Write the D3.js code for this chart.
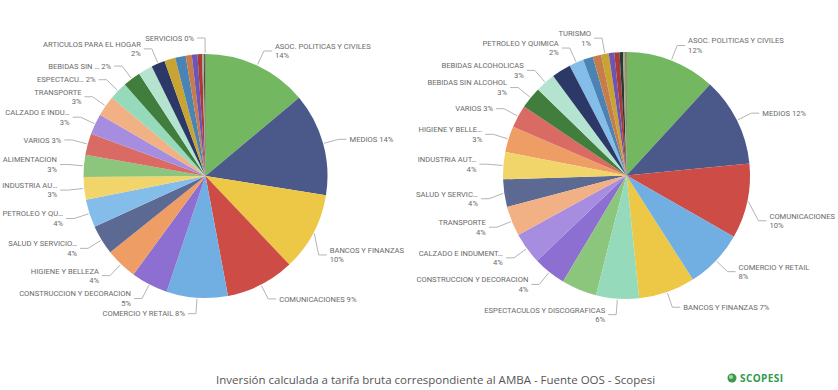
<!DOCTYPE html>
<html><head><meta charset="utf-8">
<script src="https://cdn.jsdelivr.net/npm/d3@7/dist/d3.min.js"></script>
<style>body{margin:0;background:#fff;}svg{display:block}</style>
</head><body><svg id="chart" width="838" height="390"></svg>
<script>
// ---- data ----
const categories = [
  "ASOC. POLITICAS Y CIVILES","MEDIOS","BANCOS Y FINANZAS","COMUNICACIONES","COMERCIO Y RETAIL",
  "CONSTRUCCION Y DECORACION","HIGIENE Y BELLEZA","SALUD Y SERVICIOS MEDICOS","PETROLEO Y QUIMICA",
  "INDUSTRIA AUTOMOTRIZ","ALIMENTACION","VARIOS","CALZADO E INDUMENTARIA","TRANSPORTE",
  "ESPECTACULOS Y DISCOGRAFICAS","BEBIDAS SIN ALCOHOL","BEBIDAS ALCOHOLICAS","ARTICULOS PARA EL HOGAR",
  "TURISMO","INFORMATICA","EDUCACION","GOBIERNO","JUGUETERIA","DEPORTES","OTROS","SERVICIOS"
];
const leftValues  = [13.9,13.6,10.4,9.1,8.1,4.9,4.2,3.9,3.7,3.0,2.9,2.85,2.75,2.7,2.4,2.35,1.9,1.8,1.45,1.4,0.8,0.75,0.6,0.15,0.2,0.1];
const rightValues = [11.8,11.6,7.4,9.8,7.7,4.3,3.4,3.6,1.9,3.55,4.6,2.95,4.1,3.9,5.6,2.85,2.6,2.5,1.0,1.3,1.1,0.72,0.68,0.45,0.3,0.15];
// displayed label names ("\n" = percentage on second line, null = no label)
const leftLabels = [
  "ASOC. POLITICAS Y CIVILES\n","MEDIOS ","BANCOS Y FINANZAS\n","COMUNICACIONES ","COMERCIO Y RETAIL ",
  "CONSTRUCCION Y DECORACION\n","HIGIENE Y BELLEZA\n","SALUD Y SERVICIO…\n","PETROLEO Y QU…\n",
  "INDUSTRIA AU…\n","ALIMENTACION\n","VARIOS ","CALZADO E INDU…\n","TRANSPORTE\n",
  "ESPECTACU… ","BEBIDAS SIN … ",null,"ARTICULOS PARA EL HOGAR\n",
  null,null,null,null,null,null,null,"SERVICIOS "
];
const rightLabels = [
  "ASOC. POLITICAS Y CIVILES\n","MEDIOS ","BANCOS Y FINANZAS ","COMUNICACIONES\n","COMERCIO Y RETAIL\n",
  "CONSTRUCCION Y DECORACION\n","HIGIENE Y BELLE…\n","SALUD Y SERVIC…\n","PETROLEO Y QUIMICA\n",
  "INDUSTRIA AUT…\n",null,"VARIOS ","CALZADO E INDUMENT…\n","TRANSPORTE\n",
  "ESPECTACULOS Y DISCOGRAFICAS\n","BEBIDAS SIN ALCOHOL\n","BEBIDAS ALCOHOLICAS\n",null,
  "TURISMO\n",null,null,null,null,null,null,null
];
const palette = [
  "#73B761","#4A588A","#ECC846","#CD4C46","#71AFE2","#8D6FD1","#EE9E64","#5C6993","#85BDEA",
  "#F2D56A","#8CC57C","#DA6B64","#A68DE0","#F2B184","#95DABB","#417E3D","#B4E4D0","#2C3866",
  "#C8A533","#4B83B5","#C57D4B","#6D54B5","#A83A37","#263A33","#A0A88E","#6B4A2A"
];
const footerText = "Inversión calculada a tarifa bruta correspondiente al AMBA - Fuente OOS - Scopesi";

// ---- drawing ----
const svg = d3.select("#chart");
const color = d3.scaleOrdinal().domain(categories).range(palette);

function drawPie(values, labels, cx, cy, r, xmin, xmax){
  const data = categories.map((c,i)=>({cat:c, value:values[i], label:labels[i]}));
  const total = d3.sum(data, d=>d.value);
  const pie = d3.pie().value(d=>d.value);
  const arcs = pie(data);
  const arc = d3.arc().innerRadius(0).outerRadius(r);
  const g = svg.append("g");
  g.append("g").attr("transform",`translate(${cx},${cy})`)
    .selectAll("path").data(arcs).join("path")
    .attr("d", arc).attr("fill", d=>color(d.data.cat));

  const lg = g.append("g");
  const re = r + 16;
  const lh = 9.5;
  arcs.filter(d=>d.data.label!==null).forEach(d=>{
    const a = (d.startAngle+d.endAngle)/2;
    const s = Math.sin(a), c = Math.cos(a);
    const side = s >= 0 ? 1 : -1;
    const p0 = [cx + (r+1)*s, cy - (r+1)*c];
    let e = [cx + re*s, cy - re*c];
    const pct = Math.round(d.data.value/total*100) + "%";
    const lab = d.data.label;
    const lines = lab.endsWith("\n") ? [lab.slice(0,-1), pct] : [lab + pct];
    const t = lg.append("text").attr("text-anchor", side>0?"start":"end")
      .attr("font-family","Roboto, 'DejaVu Sans', sans-serif").attr("font-size","7.6px")
      .attr("fill","#6a6a6a");
    const spans = lines.map(ln=>t.append("tspan").attr("dy","0.35em").text(ln));
    const w = d3.max(spans, sp=>sp.node().getComputedTextLength());
    // slide along the label circle when the text would leave the visual
    if (side>0 && e[0] + 11 + w > xmax) {
      const nx = xmax - 11 - w, dx = nx - cx;
      const sg = (e[1]-cy) >= 0 ? 1 : -1;
      e = [nx, cy + sg*Math.sqrt(Math.max(0, re*re - dx*dx))];
    } else if (side<0 && e[0] - 11 - w < xmin) {
      const nx = xmin + 11 + w, dx = nx - cx;
      const sg = (e[1]-cy) >= 0 ? 1 : -1;
      e = [nx, cy + sg*Math.sqrt(Math.max(0, re*re - dx*dx))];
    }
    const tx = e[0] + side*11;
    const y0 = e[1] - (lines.length-1)*lh/2;
    spans.forEach((sp,i)=>sp.attr("x",tx).attr("y", y0 + i*lh));
    const p2 = [e[0] + side*8, e[1]];
    lg.append("polyline").attr("points",[p0,e,p2].map(p=>p.join(",")).join(" "))
      .attr("fill","none").attr("stroke","#b4b4b4").attr("stroke-width",1);
  });
}

drawPie(leftValues, leftLabels, 205.5, 176, 122, 2, 404);
drawPie(rightValues, rightLabels, 626.5, 175.5, 123.5, 416, 835);

svg.append("text").attr("x",216).attr("y",384)
  .attr("font-family","'Open Sans', 'Noto Sans', sans-serif").attr("font-size","11.5px")
  .attr("fill","#555").text(footerText);

const logo = svg.append("g");
logo.append("circle").attr("cx",732).attr("cy",378).attr("r",4.5).attr("fill","#3b9a4c");
logo.append("circle").attr("cx",731).attr("cy",377).attr("r",2).attr("fill","#a7d9a9");
logo.append("text").attr("x",740).attr("y",382).attr("font-family","'Open Sans', sans-serif")
  .attr("font-size","10px").attr("font-weight","700").attr("fill","#2e9a4a").attr("letter-spacing","0.4")
  .text("SCOPESI");
</script></body></html>
